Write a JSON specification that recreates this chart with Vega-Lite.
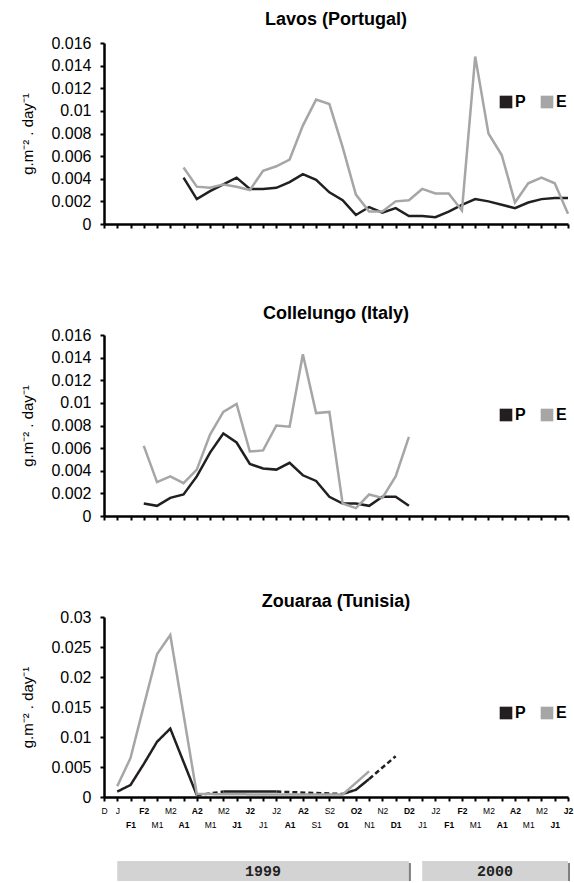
{
  "$schema": "https://vega.github.io/schema/vega-lite/v6.json",
  "padding": {"left": 20, "top": 11, "right": 5, "bottom": 0},
  "background": "white",
  "spacing": 32,
  "resolve": {"scale": {"fill": "independent", "strokeDash": "independent"}, "legend": {"fill": "independent", "strokeDash": "independent"}},
  "config": {
    "font": "Liberation Sans",
    "view": {"stroke": null},
    "title": {"font": "Liberation Sans", "fontSize": 18, "fontWeight": "bold", "color": "#000", "anchor": "middle"},
    "axis": {"domainColor": "#000", "domainWidth": 2.5, "tickColor": "#000", "tickWidth": 2, "tickSize": 4, "grid": false, "labelColor": "#000", "labelFont": "Liberation Sans", "titleFont": "Liberation Sans", "titleColor": "#000"},
    "legend": {"orient": "none", "direction": "horizontal", "symbolType": "square", "symbolSize": 160, "symbolStrokeWidth": 0, "symbolOpacity": 1, "labelFontSize": 16, "labelFontWeight": "bold", "labelFont": "Liberation Sans", "labelColor": "#000", "labelOffset": 1, "columnPadding": 13}
  },
  "datasets": {
    "lavos": [
      {"idx": 6, "series": "P", "value": 0.0041}, {"idx": 7, "series": "P", "value": 0.0022}, {"idx": 8, "series": "P", "value": 0.0029}, {"idx": 9, "series": "P", "value": 0.0035}, {"idx": 10, "series": "P", "value": 0.0041}, {"idx": 11, "series": "P", "value": 0.0031}, {"idx": 12, "series": "P", "value": 0.0031}, {"idx": 13, "series": "P", "value": 0.0032}, {"idx": 14, "series": "P", "value": 0.0037}, {"idx": 15, "series": "P", "value": 0.0044}, {"idx": 16, "series": "P", "value": 0.0039}, {"idx": 17, "series": "P", "value": 0.0028}, {"idx": 18, "series": "P", "value": 0.0021}, {"idx": 19, "series": "P", "value": 0.0008}, {"idx": 20, "series": "P", "value": 0.0015}, {"idx": 21, "series": "P", "value": 0.0010}, {"idx": 22, "series": "P", "value": 0.0014}, {"idx": 23, "series": "P", "value": 0.0007}, {"idx": 24, "series": "P", "value": 0.0007}, {"idx": 25, "series": "P", "value": 0.0006}, {"idx": 26, "series": "P", "value": 0.0011}, {"idx": 27, "series": "P", "value": 0.0017}, {"idx": 28, "series": "P", "value": 0.0022}, {"idx": 29, "series": "P", "value": 0.0020}, {"idx": 30, "series": "P", "value": 0.0017}, {"idx": 31, "series": "P", "value": 0.0014}, {"idx": 32, "series": "P", "value": 0.0019}, {"idx": 33, "series": "P", "value": 0.0022}, {"idx": 34, "series": "P", "value": 0.0023}, {"idx": 35, "series": "P", "value": 0.0023},
      {"idx": 6, "series": "E", "value": 0.0050}, {"idx": 7, "series": "E", "value": 0.0033}, {"idx": 8, "series": "E", "value": 0.0032}, {"idx": 9, "series": "E", "value": 0.0035}, {"idx": 10, "series": "E", "value": 0.0033}, {"idx": 11, "series": "E", "value": 0.0030}, {"idx": 12, "series": "E", "value": 0.0047}, {"idx": 13, "series": "E", "value": 0.0051}, {"idx": 14, "series": "E", "value": 0.0057}, {"idx": 15, "series": "E", "value": 0.0087}, {"idx": 16, "series": "E", "value": 0.0110}, {"idx": 17, "series": "E", "value": 0.0106}, {"idx": 18, "series": "E", "value": 0.0068}, {"idx": 19, "series": "E", "value": 0.0026}, {"idx": 20, "series": "E", "value": 0.0011}, {"idx": 21, "series": "E", "value": 0.0011}, {"idx": 22, "series": "E", "value": 0.0020}, {"idx": 23, "series": "E", "value": 0.0021}, {"idx": 24, "series": "E", "value": 0.0031}, {"idx": 25, "series": "E", "value": 0.0027}, {"idx": 26, "series": "E", "value": 0.0027}, {"idx": 27, "series": "E", "value": 0.0012}, {"idx": 28, "series": "E", "value": 0.0148}, {"idx": 29, "series": "E", "value": 0.0080}, {"idx": 30, "series": "E", "value": 0.0061}, {"idx": 31, "series": "E", "value": 0.0019}, {"idx": 32, "series": "E", "value": 0.0036}, {"idx": 33, "series": "E", "value": 0.0041}, {"idx": 34, "series": "E", "value": 0.0036}, {"idx": 35, "series": "E", "value": 0.0009}
    ],
    "coll": [
      {"idx": 3, "series": "P", "value": 0.0011}, {"idx": 4, "series": "P", "value": 0.0009}, {"idx": 5, "series": "P", "value": 0.0016}, {"idx": 6, "series": "P", "value": 0.0019}, {"idx": 7, "series": "P", "value": 0.0035}, {"idx": 8, "series": "P", "value": 0.0056}, {"idx": 9, "series": "P", "value": 0.0073}, {"idx": 10, "series": "P", "value": 0.0065}, {"idx": 11, "series": "P", "value": 0.0046}, {"idx": 12, "series": "P", "value": 0.0042}, {"idx": 13, "series": "P", "value": 0.0041}, {"idx": 14, "series": "P", "value": 0.0047}, {"idx": 15, "series": "P", "value": 0.0036}, {"idx": 16, "series": "P", "value": 0.0031}, {"idx": 17, "series": "P", "value": 0.0017}, {"idx": 18, "series": "P", "value": 0.0011}, {"idx": 19, "series": "P", "value": 0.0011}, {"idx": 20, "series": "P", "value": 0.0009}, {"idx": 21, "series": "P", "value": 0.0017}, {"idx": 22, "series": "P", "value": 0.0017}, {"idx": 23, "series": "P", "value": 0.0009},
      {"idx": 3, "series": "E", "value": 0.0062}, {"idx": 4, "series": "E", "value": 0.0030}, {"idx": 5, "series": "E", "value": 0.0035}, {"idx": 6, "series": "E", "value": 0.0029}, {"idx": 7, "series": "E", "value": 0.0041}, {"idx": 8, "series": "E", "value": 0.0072}, {"idx": 9, "series": "E", "value": 0.0092}, {"idx": 10, "series": "E", "value": 0.0099}, {"idx": 11, "series": "E", "value": 0.0057}, {"idx": 12, "series": "E", "value": 0.0058}, {"idx": 13, "series": "E", "value": 0.0080}, {"idx": 14, "series": "E", "value": 0.0079}, {"idx": 15, "series": "E", "value": 0.0143}, {"idx": 16, "series": "E", "value": 0.0091}, {"idx": 17, "series": "E", "value": 0.0092}, {"idx": 18, "series": "E", "value": 0.0011}, {"idx": 19, "series": "E", "value": 0.0007}, {"idx": 20, "series": "E", "value": 0.0019}, {"idx": 21, "series": "E", "value": 0.0016}, {"idx": 22, "series": "E", "value": 0.0035}, {"idx": 23, "series": "E", "value": 0.0070}
    ],
    "zou": [
      {"idx": 1, "series": "P", "seg": "P1", "style": "solid", "value": 0.0009}, {"idx": 2, "series": "P", "seg": "P1", "style": "solid", "value": 0.0020}, {"idx": 3, "series": "P", "seg": "P1", "style": "solid", "value": 0.0055}, {"idx": 4, "series": "P", "seg": "P1", "style": "solid", "value": 0.0092}, {"idx": 5, "series": "P", "seg": "P1", "style": "solid", "value": 0.0114}, {"idx": 7, "series": "P", "seg": "P1", "style": "solid", "value": 0.0003},
      {"idx": 7, "series": "P", "seg": "P2", "style": "dashed", "value": 0.0003}, {"idx": 9, "series": "P", "seg": "P2", "style": "dashed", "value": 0.0009},
      {"idx": 9, "series": "P", "seg": "P3", "style": "solid", "value": 0.0009}, {"idx": 11, "series": "P", "seg": "P3", "style": "solid", "value": 0.0009}, {"idx": 13, "series": "P", "seg": "P3", "style": "solid", "value": 0.0009},
      {"idx": 13, "series": "P", "seg": "P4", "style": "dashed", "value": 0.0009}, {"idx": 18, "series": "P", "seg": "P4", "style": "dashed", "value": 0.0005},
      {"idx": 18, "series": "P", "seg": "P5", "style": "solid", "value": 0.0005}, {"idx": 19, "series": "P", "seg": "P5", "style": "solid", "value": 0.0012}, {"idx": 20, "series": "P", "seg": "P5", "style": "solid", "value": 0.0030},
      {"idx": 20, "series": "P", "seg": "P6", "style": "dashed", "value": 0.0030}, {"idx": 22, "series": "P", "seg": "P6", "style": "dashed", "value": 0.0068},
      {"idx": 1, "series": "E", "seg": "E1", "style": "solid", "value": 0.0018}, {"idx": 2, "series": "E", "seg": "E1", "style": "solid", "value": 0.0065}, {"idx": 3, "series": "E", "seg": "E1", "style": "solid", "value": 0.0152}, {"idx": 4, "series": "E", "seg": "E1", "style": "solid", "value": 0.0238}, {"idx": 5, "series": "E", "seg": "E1", "style": "solid", "value": 0.0270}, {"idx": 7, "series": "E", "seg": "E1", "style": "solid", "value": 0.0005}, {"idx": 13, "series": "E", "seg": "E1", "style": "solid", "value": 0.0004}, {"idx": 18, "series": "E", "seg": "E1", "style": "solid", "value": 0.0004}, {"idx": 20, "series": "E", "seg": "E1", "style": "solid", "value": 0.0043}
    ],
    "years": [
      {"year": "1999", "start": 1, "end": 23},
      {"year": "2000", "start": 24, "end": 35}
    ]
  },
  "vconcat": [
    {
      "title": {"text": "Lavos (Portugal)", "offset": 6},
      "width": 464, "height": 181,
      "data": {"name": "lavos"},
      "encoding": {
        "x": {"field": "idx", "type": "quantitative", "scale": {"domain": [0, 35], "nice": false, "zero": false},
              "axis": {"values": [0,1,2,3,4,5,6,7,8,9,10,11,12,13,14,15,16,17,18,19,20,21,22,23,24,25,26,27,28,29,30,31,32,33,34,35], "labels": false, "title": "x", "titleOpacity": 0, "titleFontSize": 10, "titlePadding": 34}},
        "y": {"field": "value", "type": "quantitative", "scale": {"domain": [0, 0.016], "nice": false},
              "axis": {"values": [0, 0.002, 0.004, 0.006, 0.008, 0.01, 0.012, 0.014, 0.016], "format": "~g", "title": "g.m⁻² . day⁻¹", "titleFontSize": 15, "titleFontWeight": "normal", "labelFontSize": 16, "labelPadding": 9, "titlePadding": 15}}
      },
      "layer": [
        {"mark": {"type": "line", "strokeWidth": 2.5},
         "encoding": {"detail": {"field": "series"}, "color": {"condition": {"test": "datum.series == 'P'", "value": "#231f20"}, "value": "#a6a6a6"}}},
        {"mark": {"type": "square", "opacity": 0},
         "encoding": {"fill": {"field": "series", "type": "nominal", "scale": {"domain": ["P", "E"], "range": ["#231f20", "#a6a6a6"]}, "legend": {"title": null, "orient": "none", "legendX": 394, "legendY": 51}}}}
      ]
    },
    {
      "title": {"text": "Collelungo (Italy)", "offset": 4},
      "width": 464, "height": 181,
      "data": {"name": "coll"},
      "encoding": {
        "x": {"field": "idx", "type": "quantitative", "scale": {"domain": [0, 35], "nice": false, "zero": false},
              "axis": {"values": [0,1,2,3,4,5,6,7,8,9,10,11,12,13,14,15,16,17,18,19,20,21,22,23,24,25,26,27,28,29,30,31,32,33,34,35], "labels": false, "title": "x", "titleOpacity": 0, "titleFontSize": 10, "titlePadding": 30}},
        "y": {"field": "value", "type": "quantitative", "scale": {"domain": [0, 0.016], "nice": false},
              "axis": {"values": [0, 0.002, 0.004, 0.006, 0.008, 0.01, 0.012, 0.014, 0.016], "format": "~g", "title": "g.m⁻² . day⁻¹", "titleFontSize": 15, "titleFontWeight": "normal", "labelFontSize": 16, "labelPadding": 9, "titlePadding": 15}}
      },
      "layer": [
        {"mark": {"type": "line", "strokeWidth": 2.5},
         "encoding": {"detail": {"field": "series"}, "color": {"condition": {"test": "datum.series == 'P'", "value": "#231f20"}, "value": "#a6a6a6"}}},
        {"mark": {"type": "square", "opacity": 0},
         "encoding": {"fill": {"field": "series", "type": "nominal", "scale": {"domain": ["P", "E"], "range": ["#231f20", "#a6a6a6"]}, "legend": {"title": null, "orient": "none", "legendX": 394, "legendY": 72}}}}
      ]
    },
    {
      "title": {"text": "Zouaraa (Tunisia)", "offset": -2},
      "width": 464, "height": 180,
      "data": {"name": "zou"},
      "encoding": {
        "x": {"field": "idx", "type": "quantitative", "scale": {"domain": [0, 35], "nice": false, "zero": false},
              "axis": {"values": [0,1,2,3,4,5,6,7,8,9,10,11,12,13,14,15,16,17,18,19,20,21,22,23,24,25,26,27,28,29,30,31,32,33,34,35], "title": null,
                       "labelExpr": "['D','J','F1','F2','M1','M2','A1','A2','M1','M2','J1','J2','J1','J2','A1','A2','S1','S2','O1','O2','N1','N2','D1','D2','J1','J2','F1','F2','M1','M2','A1','A2','M1','M2','J1','J2'][datum.value]",
                       "labelFontSize": 8.5, "labelAngle": 0, "labelAlign": "center", "labelBaseline": "top", "labelOverlap": false, "labelBound": false, "labelFlush": false,
                       "labelPadding": {"condition": {"test": "datum.value >= 2 && datum.value % 2 == 0", "value": 19}, "value": 5},
                       "labelFontWeight": {"condition": {"test": "datum.value >= 2 && (datum.value - 2) % 4 < 2", "value": "bold"}, "value": "normal"}}},
        "y": {"field": "value", "type": "quantitative", "scale": {"domain": [0, 0.03], "nice": false},
              "axis": {"values": [0, 0.005, 0.01, 0.015, 0.02, 0.025, 0.03], "format": "~g", "title": "g.m⁻² . day⁻¹", "titleFontSize": 15, "titleFontWeight": "normal", "labelFontSize": 16, "labelPadding": 9, "titlePadding": 15}}
      },
      "layer": [
        {"mark": {"type": "line", "strokeWidth": 2.5},
         "encoding": {
           "detail": {"field": "seg"},
           "color": {"condition": {"test": "datum.series == 'P'", "value": "#231f20"}, "value": "#a6a6a6"},
           "strokeDash": {"field": "style", "type": "nominal", "scale": {"domain": ["solid", "dashed"], "range": [[1, 0], [5, 3]]}, "legend": null}}},
        {"mark": {"type": "square", "opacity": 0},
         "encoding": {"fill": {"field": "series", "type": "nominal", "scale": {"domain": ["P", "E"], "range": ["#231f20", "#a6a6a6"]}, "legend": {"title": null, "orient": "none", "legendX": 394, "legendY": 88}}}}
      ]
    },
    {
      "width": 464, "height": 20,
      "data": {"name": "years"},
      "transform": [{"calculate": "(datum.start + datum.end) / 2", "as": "mid"}],
      "layer": [
        {"mark": {"type": "rect", "fill": "#7f7f7f", "xOffset": 2, "x2Offset": 2, "yOffset": 2, "y2Offset": 2},
         "encoding": {"x": {"field": "start", "type": "quantitative", "scale": {"domain": [0, 35], "nice": false, "zero": false}, "axis": null}, "x2": {"field": "end"}}},
        {"mark": {"type": "rect", "fill": "#d3d3d3"},
         "encoding": {"x": {"field": "start", "type": "quantitative", "scale": {"domain": [0, 35], "nice": false, "zero": false}, "axis": null}, "x2": {"field": "end"}}},
        {"mark": {"type": "text", "font": "Liberation Mono", "fontSize": 15, "fontWeight": "bold", "color": "#222"},
         "encoding": {"x": {"field": "mid", "type": "quantitative", "scale": {"domain": [0, 35], "nice": false, "zero": false}, "axis": null}, "text": {"field": "year"}}}
      ]
    }
  ]
}
